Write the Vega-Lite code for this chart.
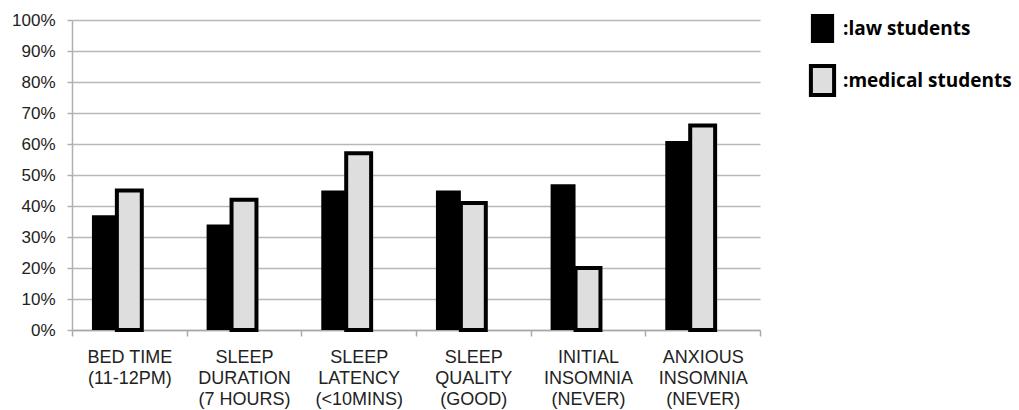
{
  "$schema": "https://vega.github.io/schema/vega-lite/v6.json",
  "width": 688,
  "height": 310,
  "autosize": "none",
  "padding": {"left": 72, "top": 20, "right": 259, "bottom": 80},
  "background": "white",
  "config": {
    "view": {"stroke": null},
    "font": "Liberation Sans"
  },
  "data": {
    "values": [
      {"cat": "BED TIME|(11-12PM)", "group": "law students", "value": 37},
      {"cat": "BED TIME|(11-12PM)", "group": "medical students", "value": 45},
      {"cat": "SLEEP|DURATION|(7 HOURS)", "group": "law students", "value": 34},
      {"cat": "SLEEP|DURATION|(7 HOURS)", "group": "medical students", "value": 42},
      {"cat": "SLEEP|LATENCY|(<10MINS)", "group": "law students", "value": 45},
      {"cat": "SLEEP|LATENCY|(<10MINS)", "group": "medical students", "value": 57},
      {"cat": "SLEEP|QUALITY|(GOOD)", "group": "law students", "value": 45},
      {"cat": "SLEEP|QUALITY|(GOOD)", "group": "medical students", "value": 41},
      {"cat": "INITIAL|INSOMNIA|(NEVER)", "group": "law students", "value": 47},
      {"cat": "INITIAL|INSOMNIA|(NEVER)", "group": "medical students", "value": 20},
      {"cat": "ANXIOUS|INSOMNIA|(NEVER)", "group": "law students", "value": 61},
      {"cat": "ANXIOUS|INSOMNIA|(NEVER)", "group": "medical students", "value": 66}
    ]
  },
  "mark": {"type": "bar"},
  "encoding": {
    "x": {
      "field": "cat",
      "type": "nominal",
      "sort": null,
      "scale": {"paddingInner": 0, "paddingOuter": 0},
      "axis": {
        "title": null,
        "labelAngle": 0,
        "labelExpr": "split(datum.label, '|')",
        "labelFontSize": 18,
        "labelLineHeight": 21,
        "labelColor": "#222222",
        "labelBaseline": "top",
        "labelPadding": 12,
        "labelLimit": 200,
        "tickBand": "extent",
        "tickSize": 6,
        "tickColor": "#a8a8a8",
        "tickWidth": 1.5,
        "domainColor": "#a8a8a8",
        "domainWidth": 1.5,
        "grid": false
      }
    },
    "xOffset": {
      "field": "group",
      "type": "nominal",
      "scale": {"domain": ["law students", "medical students", "_"], "paddingInner": 0, "paddingOuter": 0.8}
    },
    "y": {
      "field": "value",
      "type": "quantitative",
      "scale": {"domain": [0, 100]},
      "axis": {
        "title": null,
        "values": [0, 10, 20, 30, 40, 50, 60, 70, 80, 90, 100],
        "labelExpr": "datum.value + '%'",
        "labelFontSize": 17,
        "labelColor": "#222222",
        "labelPadding": 12,
        "tickSize": 5,
        "tickColor": "#b0b0b0",
        "tickWidth": 1.5,
        "domainColor": "#b0b0b0",
        "domainWidth": 1.5,
        "gridColor": "#b8b8b8",
        "gridWidth": 1.5
      }
    },
    "fill": {
      "field": "group",
      "type": "nominal",
      "scale": {"domain": ["law students", "medical students"], "range": ["#000000", "#dedede"]},
      "legend": {
        "title": null,
        "orient": "none",
        "legendX": 734,
        "legendY": -6,
        "padding": 0,
        "symbolType": "M-0.8,-1H0.8V1H-0.8Z",
        "symbolSize": 841,
        "symbolStrokeColor": "#000000",
        "symbolStrokeWidth": 3,
        "symbolOpacity": 1,
        "labelExpr": "':' + datum.label",
        "labelFont": "Open Sans",
        "labelFontWeight": "bold",
        "labelFontSize": 19,
        "labelColor": "#000000",
        "labelOffset": 4,
        "rowPadding": 15,
        "labelLimit": 250
      }
    },
    "stroke": {
      "field": "group",
      "type": "nominal",
      "scale": {"domain": ["law students", "medical students"], "range": ["#000000", "#000000"]},
      "legend": null
    },
    "strokeWidth": {
      "field": "group",
      "type": "nominal",
      "scale": {"domain": ["law students", "medical students"], "range": [0, 4]},
      "legend": null
    }
  }
}
